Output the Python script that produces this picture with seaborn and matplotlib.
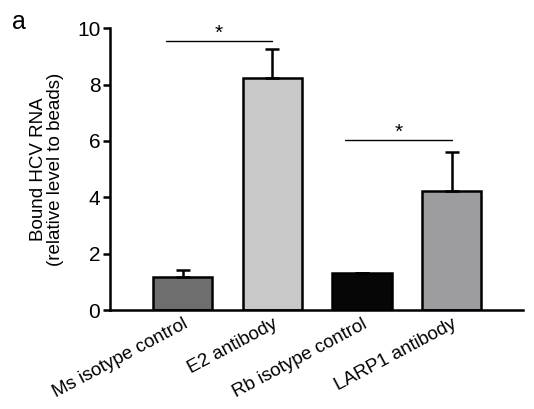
import matplotlib
matplotlib.use('Agg')
import matplotlib.pyplot as plt
import seaborn as sns
import numpy as np
import pandas as pd

# Data
groups = ['Ms isotype control', 'E2 antibody', 'Rb isotype control', 'LARP1 antibody']
means = [1.18, 8.25, 1.30, 4.23]
sems = [0.24, 1.0, 0.03, 1.37]
bar_colors = ['#6e6e6e', '#c8c8c8', '#060606', '#9d9ca1']
sig_pairs = [(0, 1, 9.53), (2, 3, 6.03)]

sns.set_style("ticks")
plt.rcParams['font.family'] = ['Liberation Sans', 'DejaVu Sans']
plt.rcParams['text.color'] = 'black'
plt.rcParams['axes.labelcolor'] = 'black'
plt.rcParams['xtick.color'] = 'black'
plt.rcParams['ytick.color'] = 'black'
plt.rcParams['axes.edgecolor'] = 'black'

df = pd.DataFrame({'group': groups, 'value': means})

fig = plt.figure(figsize=(5.34, 4.09), dpi=100)
ax = fig.add_axes([0.206, 0.242, 0.774, 0.689])

sns.barplot(data=df, x='group', y='value', hue='group', palette=bar_colors,
            legend=False, width=0.66, edgecolor='black', linewidth=1.8, ax=ax)

x = np.arange(len(groups))
ax.errorbar(x, means, yerr=[np.zeros(len(sems)), sems], fmt='none',
            ecolor='black', elinewidth=1.8, capsize=4.8, capthick=1.8, zorder=1)

# significance brackets
for a, b, h in sig_pairs:
    ax.plot([a - 0.19, b], [h, h], color='black', lw=1.0, clip_on=False)
    ax.text((a - 0.19 + b) / 2, h - 0.05, '*', ha='center', va='bottom', fontsize=15)

ax.set_ylim(0, 10)
ax.set_xlim(-0.81, 3.8)
ax.set_yticks([0, 2, 4, 6, 8, 10])
ax.tick_params(axis='y', labelsize=15, width=1.8, length=5, direction='out', pad=2)
ax.tick_params(axis='x', length=0, labelsize=13.5, pad=4)
ax.set_xticks(x)
ax.set_xticklabels(groups, rotation=28, ha='right', rotation_mode='anchor')
ax.set_xlabel('')
ax.set_ylabel('Bound HCV RNA\n(relative level to beads)', fontsize=13.5, labelpad=9,
              linespacing=1.05)

for side in ['top', 'right']:
    ax.spines[side].set_visible(False)
for side in ['left', 'bottom']:
    ax.spines[side].set_linewidth(1.8)

fig.text(0.022, 0.93, 'a', fontsize=18)

plt.savefig('out.png', dpi=100)
